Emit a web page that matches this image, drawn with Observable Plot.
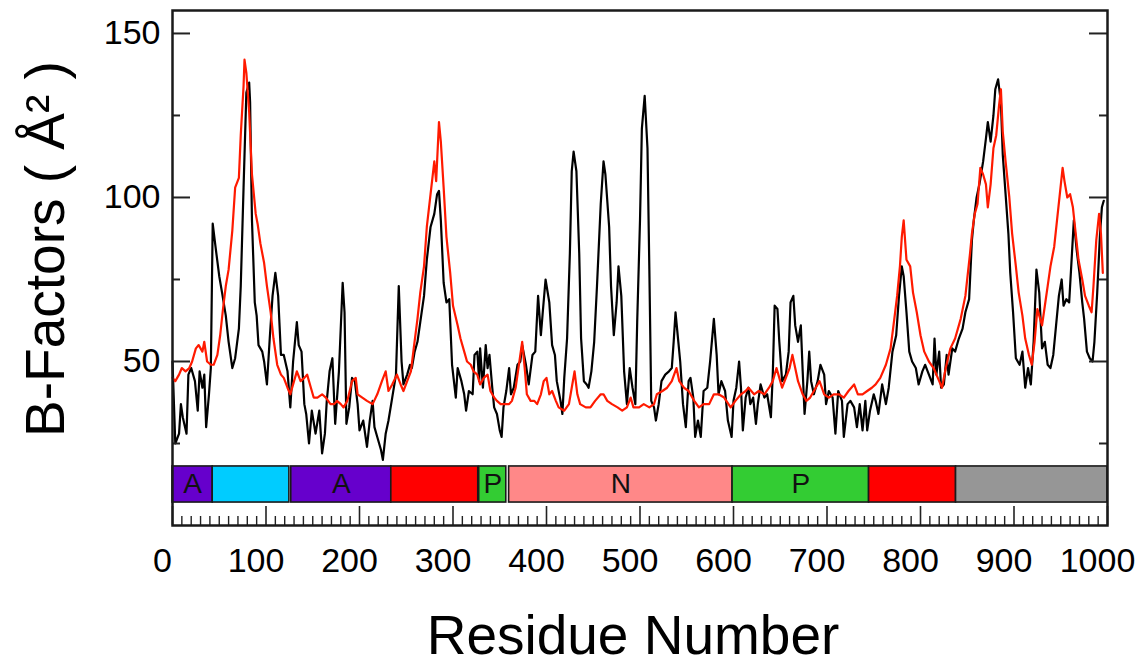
<!DOCTYPE html>
<html>
<head>
<meta charset="utf-8">
<script src="https://cdn.jsdelivr.net/npm/d3@7"></script>
<script src="https://cdn.jsdelivr.net/npm/@observablehq/plot@0.6"></script>
<style>
  html, body { margin: 0; padding: 0; background: #fff; }
  #chart { width: 1141px; height: 666px; }
</style>
</head>
<body>
<div id="chart"></div>
<script>
// ---- Data ----
// Black series (residue number, B-factor)
const blackResidue = [0,3,7,9,11,15,17,20,24,27,29,32,34,36,39,41,43,46,50,53,57,60,64,67,71,73,76,79,82,83,85,88,90,92,96,98,101,104,107,110,113,116,119,123,126,129,133,135,138,141,143,146,149,153,157,160,163,165,168,171,174,178,182,184,186,189,192,195,198,200,204,208,211,214,216,219,223,225,228,231,235,239,242,245,247,251,254,256,259,262,265,269,272,276,280,283,285,287,290,293,296,299,303,305,309,312,314,317,321,323,326,328,329,332,335,337,339,342,344,347,350,352,354,357,360,362,365,369,372,374,378,381,385,388,391,394,396,399,403,406,409,411,415,417,419,422,425,427,429,432,435,437,440,443,445,448,451,454,458,461,463,467,469,472,475,477,480,483,486,489,492,495,497,500,502,505,508,510,512,515,517,520,523,527,531,534,536,538,541,543,546,549,552,554,557,559,562,565,568,572,575,579,582,584,587,591,594,598,600,603,606,608,610,613,616,618,621,624,626,629,633,636,640,642,644,647,649,652,656,659,661,664,666,669,672,674,676,679,681,683,686,690,693,697,699,702,706,709,712,716,718,722,725,729,732,735,738,741,743,746,750,752,755,759,763,766,770,774,777,780,782,785,788,791,795,798,802,805,809,813,815,817,820,822,825,828,830,834,837,841,845,848,852,855,857,860,863,867,870,872,875,878,880,883,886,888,891,894,896,899,902,906,909,912,915,918,921,924,927,930,933,936,939,942,945,948,951,953,956,959,962,964,967,970,973,975,978,981,984,986,989,992,994,996];
const blackB = [50,25,28,37,33,28,46,48,44,35,47,42,46,30,40,48,92,85,76,71,64,56,48,51,60,73,103,132,135,129,93,68,64,55,53,50,43,57,70,77,70,52,52,47,36,50,62,55,53,37,34,25,35,28,35,22,28,38,47,51,31,47,74,65,31,36,45,44,37,29,32,24,32,38,30,27,23,20,28,32,39,46,73,50,43,46,49,48,53,56,62,70,81,91,95,101,102,93,74,68,69,49,39,48,44,40,35,41,40,52,53,44,54,42,55,48,52,42,36,34,29,27,36,41,48,40,42,49,50,55,49,43,52,53,70,58,65,75,68,55,52,44,38,34,45,57,83,108,114,108,83,57,44,43,42,47,56,73,98,111,107,91,73,58,68,79,70,47,37,48,42,37,62,93,121,131,115,78,38,36,32,37,44,46,47,48,56,65,56,50,37,30,44,45,39,27,32,27,41,42,50,63,52,40,44,41,32,27,38,42,50,42,29,39,42,37,39,31,37,43,39,40,33,46,67,66,56,44,46,53,68,70,61,56,61,47,34,44,53,44,40,44,49,46,37,41,39,28,41,38,27,37,38,36,30,37,29,38,29,35,40,38,34,43,37,42,53,58,70,79,76,65,53,50,48,43,47,49,46,43,57,46,53,42,43,52,46,54,53,57,60,65,69,87,93,100,104,111,118,123,117,125,133,136,129,113,101,89,77,65,51,49,53,42,48,43,56,78,71,54,56,49,48,52,61,70,75,67,69,68,83,93,84,77,68,63,53,51,50,56,71,89,97,99];

// Red series (residue number, B-factor)
const redResidue = [0,3,7,10,14,18,21,25,28,32,34,37,41,44,48,51,54,57,60,64,67,71,73,76,77,79,82,85,89,91,94,98,101,105,108,112,116,119,123,126,130,133,137,141,144,148,151,155,160,164,169,173,176,180,183,187,192,196,198,203,208,214,219,224,228,231,235,240,244,247,251,255,258,262,265,269,272,276,280,282,285,287,290,293,297,300,305,308,312,315,319,322,326,329,333,337,340,344,347,351,355,360,363,367,372,374,377,379,383,387,390,394,397,400,403,406,410,413,419,424,427,430,433,436,442,447,452,458,461,465,470,476,481,486,490,493,499,504,510,515,518,524,529,534,539,542,547,552,558,563,568,574,579,584,590,597,602,608,613,616,622,627,633,638,642,646,649,652,656,660,663,666,669,674,678,682,688,692,697,702,707,713,718,723,729,733,738,743,748,752,757,763,768,772,775,778,780,782,785,789,792,796,800,804,809,814,820,823,827,832,837,843,848,853,855,858,861,864,867,870,872,875,878,881,884,886,888,891,895,898,902,905,909,912,916,919,922,925,928,930,933,936,939,943,946,949,952,954,957,960,963,966,969,973,976,980,983,985,988,991,993,995];
const redB = [45,44,46,48,47,48,50,54,55,53,56,50,49,49,52,58,66,73,78,90,103,106,119,134,142,138,126,107,95,92,86,80,73,65,57,49,46,45,42,40,44,47,44,45,46,42,39,39,40,39,37,37,38,37,36,38,44,45,40,39,38,37,40,44,47,41,43,46,43,41,44,47,54,63,71,79,91,101,111,105,123,117,103,88,77,67,61,57,53,50,49,47,46,43,45,46,41,39,38,37,37,37,38,42,52,56,47,40,38,38,37,40,44,45,40,41,38,36,35,37,42,47,40,37,36,36,38,40,40,38,37,36,35,36,39,36,36,37,36,37,40,41,42,44,48,44,42,41,38,36,37,37,40,40,39,36,38,40,41,42,40,41,40,42,44,48,45,42,45,48,52,48,44,40,38,39,42,44,40,39,40,40,39,41,43,40,40,41,42,43,45,49,54,63,70,79,88,93,81,79,71,65,58,53,50,48,44,42,48,54,57,63,70,83,89,95,98,109,107,104,97,104,115,119,128,133,120,111,100,89,79,71,64,57,52,49,56,66,63,61,67,73,79,85,93,101,109,105,100,101,97,89,81,75,70,67,65,73,87,95,89,77];

// Domain bar along the bottom of the plot
const domainStart = [0, 43, 127, 234, 328, 360, 599, 745, 838];
const domainEnd   = [43, 125, 234, 327, 357, 599, 745, 838, 1000];
const domainKind  = ["A", "C", "A", "R", "P", "N", "P", "R", "G"];
const domainLabel = ["A", "", "A", "", "P", "N", "P", "", ""];

// Axis ticks
const xTickValues = [0, 100, 200, 300, 400, 500, 600, 700, 800, 900, 1000];
const yMajorTicks = [50, 100, 150];
const yMinorTicks = [25, 75, 125];

// ---- Build and draw ----
const W = 1141, H = 666, mL = 172, mR = 34, mT = 10, mB = 141;
const innerW = W - mL - mR, innerH = H - mT - mB;

const black = blackResidue.map((r, i) => ({r, b: blackB[i]}));
const red = redResidue.map((r, i) => ({r, b: redB[i]}));
const domains = domainStart.map((s, i) => ({start: s, end: domainEnd[i], kind: domainKind[i], label: domainLabel[i]}));
const xMinor = d3.range(0, 1001, 10).filter(v => v % 100 !== 0);

const chart = Plot.plot({
  width: W, height: H,
  marginLeft: mL, marginRight: mR, marginTop: mT, marginBottom: mB,
  style: {fontFamily: "'Liberation Sans', Arial, Helvetica, sans-serif", fontSize: "34px", color: "#000", background: "#fff"},
  x: {domain: [0, 1000]},
  y: {domain: [0, 157]},
  color: {type: "ordinal", domain: ["A", "C", "R", "P", "N", "G"], range: ["#6600cc", "#00ccff", "#ff0000", "#33cc33", "#ff8888", "#969696"]},
  marks: [
    Plot.rect(domains, {x1: "start", x2: "end", y1: 7, y2: 18, fill: "kind", stroke: "#1a1a1a", strokeWidth: 1.6}),
    Plot.text(domains.filter(d => d.label), {x: d => (d.start + d.end) / 2, y: 12.5, text: "label", fontSize: 28, fill: "#111"}),
    Plot.line(black, {x: "r", y: "b", stroke: "#000", strokeWidth: 2.2}),
    Plot.line(red, {x: "r", y: "b", stroke: "#ff1a00", strokeWidth: 2.2}),
    Plot.tickY(yMajorTicks, {y: d => d, insetRight: innerW - 18, stroke: "#222", strokeWidth: 2}),
    Plot.tickY(yMinorTicks, {y: d => d, insetRight: innerW - 8, stroke: "#222", strokeWidth: 2}),
    Plot.tickY(yMajorTicks, {y: d => d, insetLeft: innerW - 18, stroke: "#222", strokeWidth: 2}),
    Plot.tickY(yMinorTicks, {y: d => d, insetLeft: innerW - 8, stroke: "#222", strokeWidth: 2}),
    Plot.tickX(xTickValues, {x: d => d, insetTop: innerH - 19, stroke: "#222", strokeWidth: 1.6}),
    Plot.tickX(xMinor, {x: d => d, insetTop: innerH - 9, stroke: "#222", strokeWidth: 1.4}),
    Plot.frame({stroke: "#1a1a1a", strokeWidth: 2.5}),
    Plot.axisX(xTickValues, {tickSize: 0, tickPadding: 22, dx: -10, fontSize: 34, tickFormat: d => String(d), label: null}),
    Plot.axisY(yMajorTicks, {tickSize: 0, tickPadding: 12, fontSize: 34, tickFormat: d => String(d), label: null}),
    Plot.text(["B-Factors ( Å² )"], {frameAnchor: "left", textAnchor: "middle", lineAnchor: "middle", rotate: -90, dx: -126, dy: -19, fontSize: 55}),
    Plot.text(["Residue Number"], {frameAnchor: "bottom", textAnchor: "middle", lineAnchor: "bottom", dx: -7, dy: 128, fontSize: 55})
  ]
});
document.getElementById("chart").appendChild(chart);
</script>
</body>
</html>
